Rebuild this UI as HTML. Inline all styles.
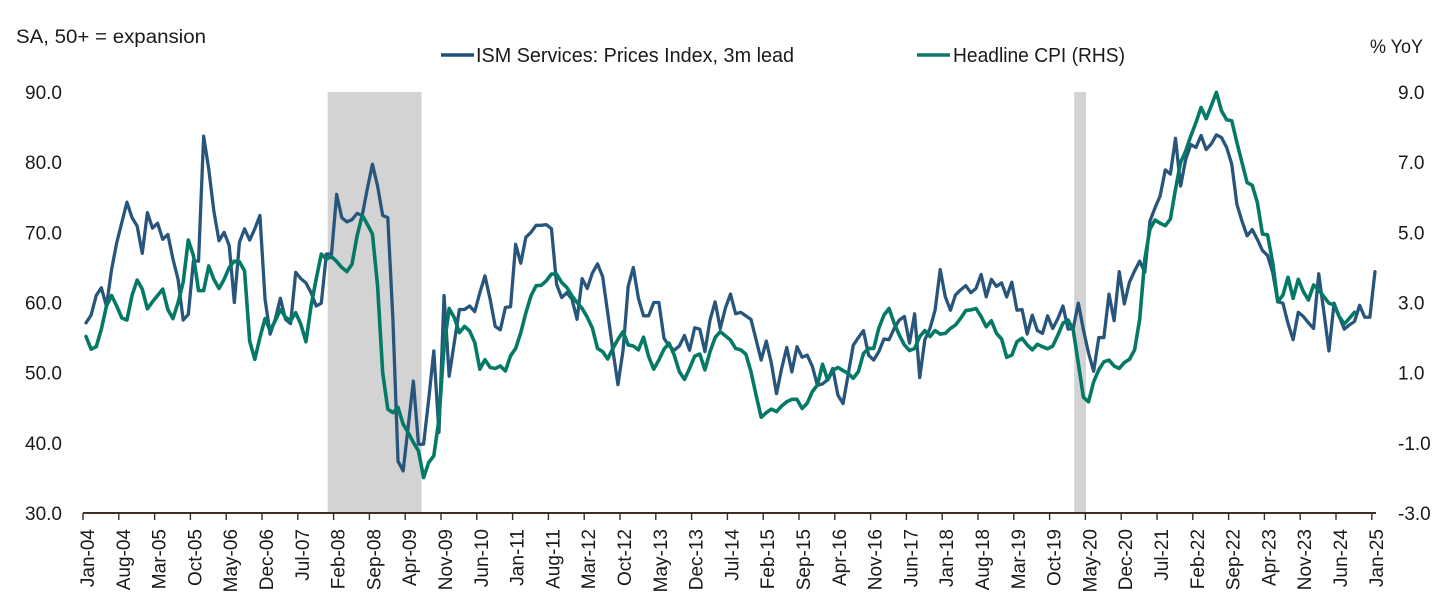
<!DOCTYPE html>
<html lang="en">
<head>
<meta charset="utf-8">
<title>ISM Services Prices Index vs Headline CPI</title>
<style>
  html, body { margin: 0; padding: 0; background: #ffffff; }
  svg { display: block; }
  text { font-family: "Liberation Sans", sans-serif; fill: #1a1a1a; }
</style>
</head>
<body>
<svg id="chart" xmlns="http://www.w3.org/2000/svg" width="1456" height="616" viewBox="0 0 1456 616">
  <rect x="0" y="0" width="1456" height="616" fill="#ffffff"/>
  <text x="16" y="43" font-size="19" textLength="190" lengthAdjust="spacingAndGlyphs">SA, 50+ = expansion</text>
  <text x="1370" y="53" font-size="19" textLength="53" lengthAdjust="spacingAndGlyphs">% YoY</text>
  <g>
    <line x1="441" y1="55" x2="474" y2="55" stroke="#1f4e79" stroke-width="3.4"/>
    <text x="476" y="62" font-size="20" textLength="318" lengthAdjust="spacingAndGlyphs">ISM Services: Prices Index, 3m lead</text>
    <line x1="917" y1="55" x2="950" y2="55" stroke="#0f766e" stroke-width="3.4"/>
    <text x="953" y="62" font-size="20" textLength="172" lengthAdjust="spacingAndGlyphs">Headline CPI (RHS)</text>
  </g>
  <g id="bands"></g>
  <g id="series"></g>
  <g id="axes"></g>
</svg>
<script>
const tickLabels = ["Jan-04","Aug-04","Mar-05","Oct-05","May-06","Dec-06","Jul-07","Feb-08","Sep-08","Apr-09","Nov-09","Jun-10","Jan-11","Aug-11","Mar-12","Oct-12","May-13","Dec-13","Jul-14","Feb-15","Sep-15","Apr-16","Nov-16","Jun-17","Jan-18","Aug-18","Mar-19","Oct-19","May-20","Dec-20","Jul-21","Feb-22","Sep-22","Apr-23","Nov-23","Jun-24","Jan-25"];
const leftTicks = [30, 40, 50, 60, 70, 80, 90];
const rightTicks = [-3, -1, 1, 3, 5, 7, 9];
const recessionStartMonths = [47.25, 193.2];
const recessionEndMonths = [65.6, 195.5];
const ismPrices = [
57.1,58.2,61.0,62.1,59.5,64.7,68.5,71.4,74.3,72.1,
70.9,67.0,72.8,70.6,71.3,69.0,69.7,66.2,63.3,57.5,
58.3,65.9,65.9,83.7,79.0,73.0,68.8,70.0,68.1,60.0,
68.6,70.5,68.9,70.5,72.4,60.5,55.5,57.6,60.6,57.6,
57.0,64.3,63.4,62.8,61.4,59.5,59.9,66.9,66.9,75.4,
72.1,71.5,71.8,72.7,72.4,76.2,79.7,76.6,72.4,72.1,
57.6,37.4,36.0,42.4,48.8,39.8,39.8,46.2,53.1,41.5,
61.0,49.5,54.3,59.0,59.0,59.5,58.7,61.4,63.8,60.5,
56.6,56.1,59.3,59.4,68.3,65.6,69.3,70.0,71.0,71.0,
71.1,70.5,62.6,60.7,61.4,60.5,57.6,63.4,62.0,64.2,
65.5,63.7,58.5,53.2,48.3,53.2,62.3,65.0,60.6,58.1,
58.1,60.0,60.0,54.9,53.8,53.2,53.8,55.3,53.2,56.4,
56.2,53.0,57.5,60.1,56.3,59.2,61.2,58.4,58.6,58.1,
57.6,54.7,51.8,54.5,51.3,47.0,50.6,53.6,50.1,53.7,
52.2,52.5,50.9,48.2,48.4,49.0,50.6,46.8,45.6,49.7,
53.9,55.0,56.0,52.5,51.8,53.0,54.8,54.7,56.3,57.5,
58.0,54.2,58.4,49.3,54.7,56.3,58.9,64.7,60.8,58.9,
61.1,61.8,62.4,61.4,62.0,64.0,60.8,63.3,62.3,62.8,
60.8,62.9,58.9,59.0,55.5,58.2,56.0,55.6,58.1,56.3,
57.7,59.5,56.2,56.3,59.9,56.1,52.8,50.2,55.0,55.0,
61.2,57.4,64.4,59.8,62.9,64.5,65.9,64.3,71.6,73.5,
75.2,78.9,78.3,83.4,76.6,80.4,82.5,82.1,83.8,81.8,
82.6,83.9,83.5,82.1,79.7,74.0,71.6,69.5,70.4,69.0,
67.4,66.7,64.3,60.1,59.9,57.0,54.7,58.6,58.0,57.1,
56.3,64.1,58.7,53.1,59.9,58.0,56.2,56.8,57.3,59.6,
57.9,57.9,64.4];
const headlineCpi = [
2.03,1.67,1.74,2.24,2.9,3.2,2.9,2.56,2.5,3.2,
3.64,3.38,2.82,3.02,3.2,3.38,2.8,2.54,3.0,3.58,
4.78,4.34,3.34,3.34,4.04,3.66,3.4,3.66,4.0,4.18,
4.16,3.9,1.9,1.38,2.0,2.54,2.2,2.48,2.8,2.58,
2.48,2.71,2.38,1.88,2.9,3.67,4.38,4.24,4.31,4.17,
4.0,3.88,4.09,4.9,5.49,5.23,4.95,3.48,1.0,-0.04,
-0.14,0.01,-0.47,-0.71,-0.99,-1.23,-1.99,-1.56,-1.37,-0.33,
1.76,2.83,2.57,2.14,2.32,2.19,1.86,1.1,1.37,1.15,
1.12,1.19,1.05,1.48,1.69,2.14,2.71,3.19,3.48,3.49,
3.62,3.81,3.81,3.57,3.43,3.19,3.0,2.83,2.58,2.27,
1.69,1.6,1.39,1.69,1.95,2.17,1.79,1.76,1.65,2.01,
1.46,1.1,1.36,1.67,1.84,1.5,1.03,0.81,1.12,1.47,
1.53,1.08,1.6,2.0,2.17,2.05,1.93,1.69,1.65,1.53,
1.03,0.36,-0.27,-0.14,-0.04,-0.11,0.05,0.17,0.24,0.24,
-0.02,0.13,0.46,0.65,1.24,0.79,1.06,1.15,1.06,0.98,
0.84,1.03,1.55,1.69,1.69,2.27,2.64,2.83,2.41,2.07,
1.79,1.63,1.69,2.03,2.2,2.03,2.2,2.1,2.12,2.26,
2.36,2.55,2.77,2.79,2.83,2.6,2.31,2.48,2.12,1.96,
1.44,1.5,1.88,1.98,1.79,1.65,1.81,1.74,1.68,1.76,
2.07,2.41,2.5,2.22,1.27,0.3,0.17,0.74,1.08,1.31,
1.36,1.19,1.12,1.29,1.38,1.65,2.52,4.24,5.09,5.35,
5.26,5.19,5.38,6.23,6.99,7.32,7.75,8.13,8.56,8.24,
8.61,8.99,8.46,8.21,8.18,7.56,6.99,6.42,6.34,5.85,
4.95,4.93,4.14,3.02,3.21,3.72,3.12,3.66,3.31,3.07,
3.5,3.36,3.17,2.98,2.93,2.6,2.39,2.55,2.72];

const SVG_NS = "http://www.w3.org/2000/svg";
const plotTop = 92, plotBottom = 513;
const monthStep = 5.115, firstPointX = 86, axisOriginX = 83;

function xScale(i) { return firstPointX + monthStep * i; }
function yLeft(v) { return plotBottom - (v - 30) / 60 * (plotBottom - plotTop); }
function yRight(v) { return plotBottom - (v + 3) / 12 * (plotBottom - plotTop); }
function xTick(k) { return axisOriginX + 35.8 * k; }
function make(tag, attrs) {
  const el = document.createElementNS(SVG_NS, tag);
  for (const key in attrs) el.setAttribute(key, attrs[key]);
  return el;
}
function linePath(values, yFn) {
  return values.map((v, i) => (i ? "L" : "M") + xScale(i).toFixed(2) + " " + yFn(v).toFixed(2)).join(" ");
}

const bands = document.getElementById("bands");
recessionStartMonths.forEach((start, i) => {
  const x0 = xScale(start), x1 = xScale(recessionEndMonths[i]);
  const band = make("rect", { x: x0, y: plotTop, width: x1 - x0, height: plotBottom - plotTop, fill: "#d3d3d3" });
  
  
  bands.appendChild(band);
});

const seriesGroup = document.getElementById("series");
const ismLine = make("path", { d: linePath(ismPrices, yLeft), fill: "none", stroke: "#28557c", "stroke-width": 3.3, "stroke-linejoin": "round", "stroke-linecap": "round" });


seriesGroup.appendChild(ismLine);
const cpiLine = make("path", { d: linePath(headlineCpi, yRight), fill: "none", stroke: "#047a66", "stroke-width": 3.6, "stroke-linejoin": "round", "stroke-linecap": "round" });


seriesGroup.appendChild(cpiLine);

const axes = document.getElementById("axes");
const baseline = make("line", { x1: axisOriginX, y1: plotBottom, x2: 1376, y2: plotBottom, stroke: "#3b2f28", "stroke-width": 2 });


axes.appendChild(baseline);

tickLabels.forEach((label, k) => {
  const x = xTick(k);
  const tick = make("line", { x1: x, y1: plotBottom, x2: x, y2: 520, stroke: "#3b2f28", "stroke-width": 1.4 });
  
  
  axes.appendChild(tick);
  const lx = x + 11;
  const text = make("text", { x: lx, y: 529, "font-size": 19, "text-anchor": "end", transform: "rotate(-90 " + lx + " 529)" });
  
  
  text.textContent = label;
  axes.appendChild(text);
});

leftTicks.forEach((v) => {
  const text = make("text", { x: 62, y: yLeft(v) + 7, "font-size": 19, "text-anchor": "end" });
  
  
  text.textContent = v.toFixed(1);
  axes.appendChild(text);
});

rightTicks.forEach((v) => {
  const text = make("text", { x: 1398, y: yRight(v) + 7, "font-size": 19 });
  
  
  text.textContent = v.toFixed(1);
  axes.appendChild(text);
});
</script>
</body>
</html>
